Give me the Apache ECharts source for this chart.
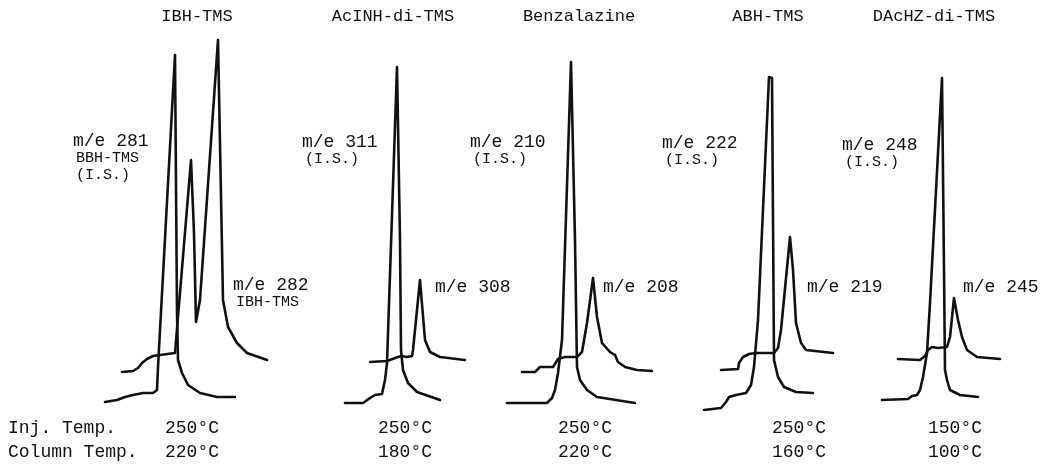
<!DOCTYPE html>
<html>
<head>
<meta charset="utf-8">
<script src="https://cdn.jsdelivr.net/npm/echarts@6/dist/echarts.min.js"></script>
<style>
html,body{margin:0;padding:0;background:#fff;}
#chart{width:1046px;height:466px;}
</style>
</head>
<body>
<div id="chart"></div>
<script>
// ---- Data (time units, relative intensity) ----
const compounds = ['IBH-TMS', 'AcINH-di-TMS', 'Benzalazine', 'ABH-TMS', 'DAcHZ-di-TMS'];
const injTemps = ['250°C', '250°C', '250°C', '250°C', '150°C'];
const columnTemps = ['220°C', '180°C', '220°C', '160°C', '100°C'];

// internal standard traces (lower)
const isTrace1 = [[2.5,2],[8.5,2.5],[12.5,3.25],[16.5,3.75],[21.5,4.25],[26.5,4.25],[28.5,5],[29,10.75],[37.5,88.75],[38.5,88.25],[38.5,24.25],[39,12.5],[41,9.25],[44,6.25],[50,4.25],[58.5,3.25],[67.5,3.25]];
const isTrace2 = [[2.5,1.75],[11.5,1.75],[15,3],[17.5,3.75],[21,4],[21.5,4.5],[22.5,7.5],[23.5,11.75],[28.5,85.75],[29.5,85.75],[30,42.5],[30.5,15],[31.5,10],[34,6.75],[38.5,4.5],[50,2.5]];
const isTrace3 = [[3.5,1.75],[23.5,1.75],[26,3],[27.5,5],[29,9.25],[31,17.5],[35.5,87],[36.5,86.75],[37.5,42.5],[38.5,10.75],[40,7.5],[43.5,5],[48.5,3.25],[67.5,1.75]];
const isTrace4 = [[4,0],[12.5,0.5],[15,2],[16.5,3.25],[20,3.75],[25,4.25],[27.5,6.25],[29,10.75],[31,22.5],[36.5,83.25],[38,83],[38.5,47.5],[39,12.5],[41,8.25],[44,5.75],[50,4.5],[58.5,4.25]];
const isTrace5 = [[8,2.5],[21,2.75],[23,3.5],[25.5,3.75],[27,5],[28.5,8.25],[30.5,14.25],[32,26.75],[38,83],[39,82.5],[39,35],[39.5,10],[40.5,7.5],[42,5],[47,3.75],[56,3.25]];

// analyte traces (upper, offset baseline)
const anTrace1 = [[11,-3.5],[16.5,-3.25],[19,-2.5],[21,-1.25],[23.5,-0.25],[26.5,0.5],[30,0.75],[37.5,1.25],[45.5,49.5],[47,31.25],[48,9],[48.5,9.5],[50,14.5],[59,79.5],[59.5,79.5],[61.5,14.5],[64,7.75],[68.5,3.75],[73.5,1.25],[83.5,-0.5]];
const anTrace2 = [[15,-1],[23.5,-0.75],[29,0.25],[31,0.5],[33.5,0.25],[36,0.5],[36.5,2],[40,19.5],[40.5,19.5],[42.5,4.5],[45,1.5],[50,0.25],[62.5,-0.5]];
const anTrace3 = [[11,-3.5],[17.5,-3.5],[20,-2.25],[26.5,-2.25],[29,-0.25],[32.5,0.25],[38.5,0.25],[41,1.5],[43.5,8.75],[46.5,20],[48.5,10.25],[51,3.75],[55,1.5],[57.5,0.75],[59,-1],[62.5,-2.25],[68.5,-3],[76,-3.25]];
const anTrace4 = [[12.5,-3],[21,-2.75],[21.5,-1.25],[23.5,0.25],[26.5,1],[30,1.25],[39,1.25],[41,2.5],[42.5,7],[47,30.25],[48.5,22],[50,8.75],[52.5,3.75],[55,2],[68.5,1.25]];
const anTrace5 = [[16,-0.25],[27,-0.5],[29.5,0.5],[31,2],[33,2.75],[36,2.5],[40.5,2.75],[42,5.25],[44,15],[46,9.5],[48,5.25],[50.5,2],[55.5,0.25],[67,-0.25]];

const isLabels = [['m/e 281','BBH-TMS','(I.S.)'], ['m/e 311','(I.S.)'], ['m/e 210','(I.S.)'], ['m/e 222','(I.S.)'], ['m/e 248','(I.S.)']];
const anLabels = [['m/e 282','IBH-TMS'], ['m/e 308'], ['m/e 208'], ['m/e 219'], ['m/e 245']];

const isTraces = [isTrace1, isTrace2, isTrace3, isTrace4, isTrace5];
const anTraces = [anTrace1, anTrace2, anTrace3, anTrace4, anTrace5];

// ---- Layout ----
const panelLeft = [100, 340, 500, 696, 866];
const titleX = [197, 393, 579, 768, 934];
const isLabelPos = [[73,141],[302,142],[470,142],[662,143],[842,145]];
const anLabelPos = [[233,285],[435,287],[603,287],[807,287],[963,287]];
const tempX = [165, 378, 558, 772, 928];

const FONT = '"Liberation Mono", "DejaVu Sans Mono", monospace';
const INK = '#111';

const grids = [], xAxes = [], yAxes = [], series = [], graphics = [];
for (let p = 0; p < 5; p++) {
  grids.push({left: panelLeft[p], top: 10, width: 180, height: 400});
  xAxes.push({type: 'value', gridIndex: p, min: 0, max: 90, show: false});
  yAxes.push({type: 'value', gridIndex: p, min: 0, max: 100, show: false});
  yAxes.push({type: 'value', gridIndex: p, min: -13, max: 87, show: false});
  series.push({type: 'line', xAxisIndex: p, yAxisIndex: 2*p, data: isTraces[p], symbol: 'none',
    lineStyle: {color: INK, width: 2.6, join: 'round', cap: 'round'}, animation: false});
  series.push({type: 'line', xAxisIndex: p, yAxisIndex: 2*p+1, data: anTraces[p], symbol: 'none',
    lineStyle: {color: INK, width: 2.6, join: 'round', cap: 'round'}, animation: false});

  graphics.push({type: 'text', x: titleX[p], y: 16, style: {text: compounds[p], font: '17px ' + FONT, fill: INK, align: 'center', verticalAlign: 'middle'}});
  isLabels[p].forEach((t, i) => {
    graphics.push({type: 'text', x: isLabelPos[p][0] + (i ? 3 : 0), y: isLabelPos[p][1] + i * 17, style: {text: t, font: (i ? '15px ' : '18px ') + FONT, fill: INK, align: 'left', verticalAlign: 'middle'}});
  });
  anLabels[p].forEach((t, i) => {
    graphics.push({type: 'text', x: anLabelPos[p][0] + (i ? 3 : 0), y: anLabelPos[p][1] + i * 17, style: {text: t, font: (i ? '15px ' : '18px ') + FONT, fill: INK, align: 'left', verticalAlign: 'middle'}});
  });
  graphics.push({type: 'text', x: tempX[p], y: 428, style: {text: injTemps[p], font: '18px ' + FONT, fill: INK, align: 'left', verticalAlign: 'middle'}});
  graphics.push({type: 'text', x: tempX[p], y: 452, style: {text: columnTemps[p], font: '18px ' + FONT, fill: INK, align: 'left', verticalAlign: 'middle'}});
}
graphics.push({type: 'text', x: 8, y: 428, style: {text: 'Inj. Temp.', font: '18px ' + FONT, fill: INK, align: 'left', verticalAlign: 'middle'}});
graphics.push({type: 'text', x: 8, y: 452, style: {text: 'Column Temp.', font: '18px ' + FONT, fill: INK, align: 'left', verticalAlign: 'middle'}});

const chart = echarts.init(document.getElementById('chart'), null, {renderer: 'canvas'});
chart.setOption({
  backgroundColor: '#fff',
  animation: false,
  grid: grids,
  xAxis: xAxes,
  yAxis: yAxes,
  series: series,
  graphic: graphics
});
</script>
</body>
</html>
